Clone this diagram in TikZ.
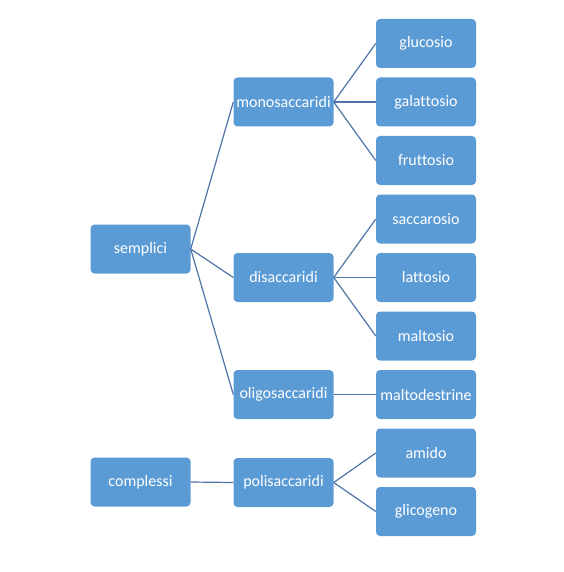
\documentclass[tikz,border=0pt]{standalone}
\usepackage{fontspec}
\setmainfont[Ligatures=NoCommon]{Carlito}
\definecolor{boxblue}{HTML}{5B9BD5}
\definecolor{edgeblue}{HTML}{4F74A8}
\begin{document}
\begin{tikzpicture}[x=1pt,y=-1pt,
  box/.style={draw=none,fill=boxblue,rounded corners=4pt,minimum width=100pt,minimum height=49pt,inner sep=0pt,text=white,font=\fontsize{16}{19}\selectfont},
  link/.style={draw=edgeblue,line width=1.2pt}]
\useasboundingbox (0,0) rectangle (563,572);
\node[box] (semplici) at (140.5,249) {semplici};
\node[box] (complessi) at (140.5,482) {complessi};
\node[box] (mono) at (283.5,102) {monosaccaridi};
\node[box] (di) at (283.5,277.5) {disaccaridi};
\node[box] (oligo) at (283.5,394.5) {oligosaccaridi};
\node[box] (poli) at (283.5,482.5) {polisaccaridi};
\node[box] (glucosio) at (426,43.5) {glucosio};
\node[box] (galattosio) at (426,102) {galattosio};
\node[box] (fruttosio) at (426,160.5) {fruttosio};
\node[box] (saccarosio) at (426,219) {saccarosio};
\node[box] (lattosio) at (426,277.5) {lattosio};
\node[box] (maltosio) at (426,336) {maltosio};
\node[box] (maltodestrine) at (426,394.5) {maltodestrine};
\node[box] (amido) at (426,453) {amido};
\node[box] (glicogeno) at (426,511.5) {glicogeno};
\foreach \a/\b in {semplici/mono,semplici/di,semplici/oligo,complessi/poli,
  mono/glucosio,mono/galattosio,mono/fruttosio,
  di/saccarosio,di/lattosio,di/maltosio,
  oligo/maltodestrine,poli/amido,poli/glicogeno}
  \draw[link] (\a.east) -- (\b.west);
\end{tikzpicture}
\end{document}
